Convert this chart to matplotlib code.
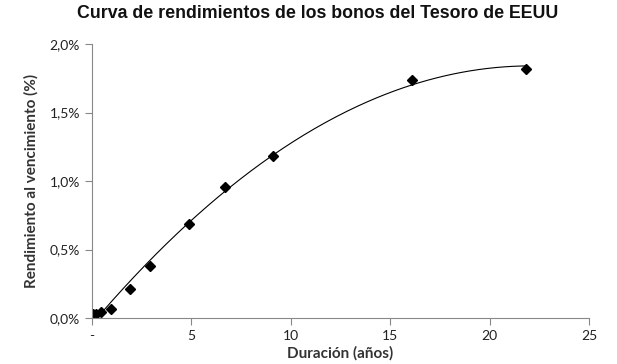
import matplotlib.pyplot as plt
import numpy as np

plt.rcParams['font.family'] = ['Lato', 'DejaVu Sans']

# Duración (años) y rendimiento (%)
duracion = [0.05, 0.2, 0.45, 0.96, 1.91, 2.92, 4.88, 6.69, 9.1, 16.1, 21.8]
rendimiento = [0.03, 0.03, 0.045, 0.07, 0.21, 0.38, 0.69, 0.96, 1.18, 1.74, 1.82]

xticks = [0, 5, 10, 15, 20, 25]
xlabels = ['-', '5', '10', '15', '20', '25']
yticks = [0.0, 0.5, 1.0, 1.5, 2.0]
ylabels = ['0,0%', '0,5%', '1,0%', '1,5%', '2,0%']

fig = plt.figure(figsize=(6.17, 3.64), dpi=100)
ax = fig.add_axes([0.149, 0.126, 0.806, 0.753])

# línea de tendencia polinómica
coef = np.polyfit(duracion, rendimiento, 2)
xs = np.linspace(0.5, 21.8, 200)
ys = np.polyval(coef, xs)
keep = ys >= 0.02
ax.plot(xs[keep], ys[keep], color='black', lw=0.8)
ax.plot(duracion, rendimiento, 'D', color='black', markersize=5.5)

ax.set_xlim(0, 25)
ax.set_ylim(0, 2.0)
ax.set_xticks(xticks)
ax.set_xticklabels(xlabels)
ax.set_yticks(yticks)
ax.set_yticklabels(ylabels)
for s in ['top', 'right']:
    ax.spines[s].set_visible(False)
for s in ['left', 'bottom']:
    ax.spines[s].set_color('#888888')
ax.tick_params(colors='#888888', labelcolor='#222222', labelsize=10, length=5)

ax.set_xlabel('Duración (años)', fontsize=11, fontweight='bold', color='#333333', labelpad=3)
ax.set_ylabel('Rendimiento al vencimiento (%)', fontsize=11, fontweight='bold', color='#333333', labelpad=8)
fig.suptitle('Curva de rendimientos de los bonos del Tesoro de EEUU', x=0.515, y=0.985,
             fontsize=12.8, fontweight='bold', color='#111111', family='Liberation Sans')

fig.savefig('out.png', dpi=100)
